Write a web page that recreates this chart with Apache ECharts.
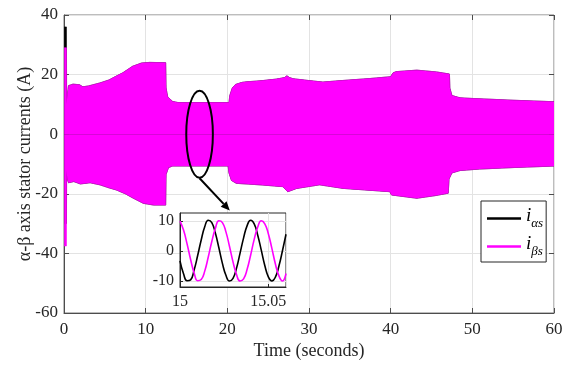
<!DOCTYPE html>
<html>
<head>
<meta charset="utf-8">
<script src="https://cdn.jsdelivr.net/npm/echarts@6/dist/echarts.min.js"></script>
<style>
  html, body { margin: 0; padding: 0; background: #fff; }
  #chart { width: 574px; height: 365px; }
</style>
</head>
<body>
<div id="chart"></div>
<script>
// envelope of the fast oscillating currents, [time (s), current (A)]
const betaUpper = [[0.02, 29], [0.3, 29], [0.32, 10], [0.36, 10], [0.4, 13], [0.55, 16.3], [1.1, 16.8], [1.9, 16.6],
  [2.3, 15.9], [3.0, 16.2], [4.4, 17.2], [5.5, 18.2], [6.4, 19.5], [7.2, 20.6], [8.4, 22.8], [9.5, 23.9],
  [10.5, 24.1], [12.45, 24.0], [12.5, 15.5], [12.7, 12.5], [13.3, 11.0], [14, 10.6], [20.2, 10.6], [20.3, 13.0],
  [20.6, 15.5], [21.0, 16.7], [21.8, 17.4], [22.4, 17.6], [24, 17.9], [26, 18.5], [27.0, 19.0], [27.3, 19.6],
  [27.6, 19.0], [28.1, 18.6], [30, 18.0], [31.7, 17.5], [34, 18.0], [37.5, 18.7], [40.0, 19.3], [40.3, 20.6],
  [40.7, 21.0], [43.2, 21.5], [45.6, 20.9], [47.2, 20.2], [47.25, 15.5], [47.5, 13.0], [48.5, 12.2], [50, 12.0],
  [55, 11.4], [60, 10.9]];
const betaLower = [[0.02, -37.5], [0.3, -37.5], [0.32, -12], [0.36, -12], [0.4, -15], [0.55, -16.3], [1.2, -15.9],
  [2.0, -16.7], [3.2, -16.3], [4.4, -17.0], [5.5, -18.0], [6.4, -18.7], [7.5, -20.0], [8.5, -21.5], [9.7, -23.2],
  [11, -23.8], [12.45, -23.8], [12.5, -13.5], [12.8, -11.2], [13.3, -10.7], [20.1, -10.7], [20.2, -13.0],
  [20.5, -15.5], [21.1, -16.5], [24, -17.0], [26.8, -17.6], [27.4, -19.3], [28.5, -18.2], [31.3, -17.0],
  [34.2, -18.2], [39.9, -19.3], [40.1, -20.4], [43.2, -21.5], [45.5, -20.6], [47.05, -19.8], [47.15, -15.0],
  [47.5, -13.0], [48.5, -12.2], [50.9, -11.7], [55, -11.2], [60, -10.7]];
const alphaUpper = [[0.02, 36], [0.3, 36], [0.32, 10], [0.36, 10], [0.4, 13], [0.55, 16.3], [1.1, 16.8], [1.9, 16.6],
  [2.3, 15.9], [3.0, 16.2], [4.4, 17.2], [5.5, 18.2], [6.4, 19.5], [7.2, 20.6], [8.4, 22.8], [9.5, 23.9],
  [10.5, 24.1], [12.45, 24.0], [12.5, 15.5], [12.7, 12.5], [13.3, 11.0], [14, 10.6], [20.2, 10.6], [20.3, 13.0],
  [20.6, 15.5], [21.0, 16.7], [21.8, 17.4], [22.4, 17.6], [24, 17.9], [26, 18.5], [27.0, 19.0], [27.3, 19.6],
  [27.6, 19.0], [28.1, 18.6], [30, 18.0], [31.7, 17.5], [34, 18.0], [37.5, 18.7], [40.0, 19.3], [40.3, 20.6],
  [40.7, 21.0], [43.2, 21.5], [45.6, 20.9], [47.2, 20.2], [47.25, 15.5], [47.5, 13.0], [48.5, 12.2], [50, 12.0],
  [55, 11.4], [60, 10.9]];
const alphaLower = [[0.02, -30], [0.3, -30], [0.32, -12], [0.36, -12], [0.4, -15], [0.55, -16.3], [1.2, -15.9],
  [2.0, -16.7], [3.2, -16.3], [4.4, -17.0], [5.5, -18.0], [6.4, -18.7], [7.5, -20.0], [8.5, -21.5], [9.7, -23.2],
  [11, -23.8], [12.45, -23.8], [12.5, -13.5], [12.8, -11.2], [13.3, -10.7], [20.1, -10.7], [20.2, -13.0],
  [20.5, -15.5], [21.1, -16.5], [24, -17.0], [26.8, -17.6], [27.4, -19.3], [28.5, -18.2], [31.3, -17.0],
  [34.2, -18.2], [39.9, -19.3], [40.1, -20.4], [43.2, -21.5], [45.5, -20.6], [47.05, -19.8], [47.15, -15.0],
  [47.5, -13.0], [48.5, -12.2], [50.9, -11.7], [55, -11.2], [60, -10.7]];

// zoomed window 15 .. 15.06 s, one sample every 2 ms
const insetTime = [15.000, 15.002, 15.004, 15.006, 15.008, 15.010, 15.012, 15.014, 15.016, 15.018, 15.020,
  15.022, 15.024, 15.026, 15.028, 15.030, 15.032, 15.034, 15.036, 15.038, 15.040, 15.042, 15.044, 15.046,
  15.048, 15.050, 15.052, 15.054, 15.056, 15.058, 15.060];
const insetAlpha = [-3.3, -7.6, -9.9, -9.6, -6.3, -1.5, 3.7, 8.1, 10.3, 9.5, 6.0, 1.1, -4.1, -8.1, -10.0, -9.1,
  -5.7, -0.7, 4.4, 8.5, 10.3, 9.1, 5.3, 0.3, -4.8, -8.6, -10.0, -8.7, -5.0, 0.1, 5.6];
const insetBeta = [10.0, 7.0, 2.4, -2.8, -7.3, -9.9, -9.5, -6.7, -2.0, 3.2, 7.5, 10.1, 9.5, 6.4, 1.6, -3.6, -7.8,
  -10.0, -9.3, -6.1, -1.3, 3.9, 8.0, 10.1, 9.1, 5.8, 0.9, -4.3, -8.3, -10.0, -7.5];

const xTicks = { min: 0, max: 60, interval: 10 };
const yTicks = { min: -60, max: 40, interval: 20 };
const insetYLabels = [-10, 0, 10];

const FONT = "'Liberation Serif', 'Times New Roman', serif";
const AXIS = '#4d4d4d';
const TEXT = '#262626';
const GRID = '#e3e3e3';
const MAGENTA = '#ff00ff';

const pairs = (ts, vs) => ts.map((t, i) => [t, vs[i]]);

function bandSeries(name, color, data, z) {
  return {
    name, type: 'line', xAxisIndex: 0, yAxisIndex: 0, data, z,
    symbol: 'none', silent: true, color,
    itemStyle: { color },
    lineStyle: { color, width: 0.6 },
    areaStyle: { color, opacity: 1, origin: 0 },
  };
}

function insetSeries(name, color, data) {
  return {
    name, type: 'line', xAxisIndex: 2, yAxisIndex: 2, data, z: 12,
    symbol: 'none', silent: true, smooth: true, color,
    itemStyle: { color },
    lineStyle: { color, width: 1.6 },
  };
}

const chart = echarts.init(document.getElementById('chart'));

const tickLabel = { fontFamily: FONT, fontSize: 17, color: TEXT };

chart.setOption({
  animation: false,
  backgroundColor: '#fff',
  textStyle: { fontFamily: FONT },
  grid: [
    { left: 64, top: 15, width: 490, height: 298, show: true, borderColor: '#7a7a7a', borderWidth: 1,
      backgroundColor: 'transparent', z: 0 },
    { left: 180, top: 213, width: 106, height: 74, show: true, borderColor: TEXT, borderWidth: 1,
      backgroundColor: '#fff', z: 10 },
  ],
  xAxis: [
    { gridIndex: 0, type: 'value', ...xTicks,
      name: 'Time (seconds)', nameLocation: 'middle', nameGap: 29, nameMoveOverlap: false,
      nameTextStyle: { fontFamily: FONT, fontSize: 18, color: TEXT },
      axisLine: { show: true, onZero: false, lineStyle: { color: AXIS } },
      axisTick: { inside: true, length: 5, lineStyle: { color: AXIS } },
      axisLabel: { ...tickLabel, margin: 8 },
      splitLine: { show: true, lineStyle: { color: GRID } } },
    { gridIndex: 0, type: 'value', position: 'top', ...xTicks,
      axisLine: { show: false, onZero: false },
      axisTick: { inside: true, length: 5, lineStyle: { color: AXIS } },
      axisLabel: { show: false }, splitLine: { show: false } },
    { gridIndex: 1, type: 'value', min: 15, max: 15.06, interval: 0.05, z: 11,
      axisLine: { show: true, onZero: false, lineStyle: { color: TEXT } },
      axisTick: { inside: true, length: 3, lineStyle: { color: TEXT } },
      axisLabel: { fontFamily: FONT, fontSize: 16, color: TEXT, margin: 7,
        formatter: v => String(+v.toFixed(2)) },
      splitLine: { show: true, lineStyle: { color: GRID } } },
  ],
  yAxis: [
    { gridIndex: 0, type: 'value', ...yTicks,
      name: 'α-β axis stator currents (A)', nameLocation: 'middle', nameGap: 30, nameMoveOverlap: false,
      nameTextStyle: { fontFamily: FONT, fontSize: 18, color: TEXT },
      axisLine: { show: true, onZero: false, lineStyle: { color: AXIS } },
      axisTick: { inside: true, length: 5, lineStyle: { color: AXIS } },
      axisLabel: { ...tickLabel, margin: 6 },
      splitLine: { show: true, lineStyle: { color: GRID } } },
    { gridIndex: 0, type: 'value', position: 'right', ...yTicks,
      axisLine: { show: false, onZero: false },
      axisTick: { inside: true, length: 5, lineStyle: { color: AXIS } },
      axisLabel: { show: false }, splitLine: { show: false } },
    { gridIndex: 1, type: 'value', min: -12, max: 12.7, z: 11,
      axisLine: { show: true, onZero: false, lineStyle: { color: TEXT } },
      axisTick: { inside: true, length: 3, customValues: insetYLabels, lineStyle: { color: TEXT } },
      axisLabel: { fontFamily: FONT, fontSize: 16, color: TEXT, margin: 6, customValues: insetYLabels },
      splitLine: { show: true, lineStyle: { color: GRID } } },
  ],
  legend: {
    orient: 'vertical', left: 481, top: 201,
    data: ['i_as', 'i_bs'], selectedMode: false,
    icon: 'rect', itemWidth: 34, itemHeight: 2.5, itemGap: 4,
    padding: [5, 3, 4, 6],
    backgroundColor: '#fff', borderColor: TEXT, borderWidth: 1, borderRadius: 0, z: 20,
    formatter: name => name === 'i_as' ? '{i|i}{s|αs}' : '{i|i}{s|βs}',
    textStyle: {
      rich: {
        i: { fontFamily: FONT, fontStyle: 'italic', fontSize: 19, color: '#000', padding: [0, 0, 6, 0] },
        s: { fontFamily: FONT, fontStyle: 'italic', fontSize: 13, color: '#000', padding: [10, 0, 0, 0] },
      },
    },
  },
  series: [
    bandSeries('i_as', '#000', alphaUpper, 2),
    bandSeries('i_as', '#000', alphaLower, 2),
    bandSeries('i_bs', MAGENTA, betaUpper, 3),
    bandSeries('i_bs', MAGENTA, betaLower, 3),
    insetSeries('i_as', '#000', pairs(insetTime, insetAlpha)),
    insetSeries('i_bs', MAGENTA, pairs(insetTime, insetBeta)),
  ],
});

// ellipse around the zoomed region and the arrow pointing to the inset
const px = (t, v) => chart.convertToPixel({ gridIndex: 0 }, [t, v]);
const c = px(16.6, 0);
const rx = px(16.6 + 1.63, 0)[0] - c[0];
const ry = c[1] - px(16.6, 14.6)[1];
const a0 = px(16.6, -14.8);
const a1 = px(20.3, -25.6);
const dx = a1[0] - a0[0], dy = a1[1] - a0[1];
const len = Math.hypot(dx, dy);
const ux = dx / len, uy = dy / len;
const head = 9, half = 4;
const base = [a1[0] - ux * head, a1[1] - uy * head];

chart.setOption({
  graphic: [
    { type: 'ellipse', z: 30, silent: true,
      shape: { cx: c[0], cy: c[1], rx, ry },
      style: { fill: 'none', stroke: '#000', lineWidth: 2 } },
    { type: 'line', z: 30, silent: true,
      shape: { x1: a0[0], y1: a0[1], x2: base[0], y2: base[1] },
      style: { stroke: '#000', lineWidth: 2 } },
    { type: 'polygon', z: 30, silent: true,
      shape: { points: [a1, [base[0] - uy * half, base[1] + ux * half], [base[0] + uy * half, base[1] - ux * half]] },
      style: { fill: '#000' } },
  ],
});
</script>
</body>
</html>
